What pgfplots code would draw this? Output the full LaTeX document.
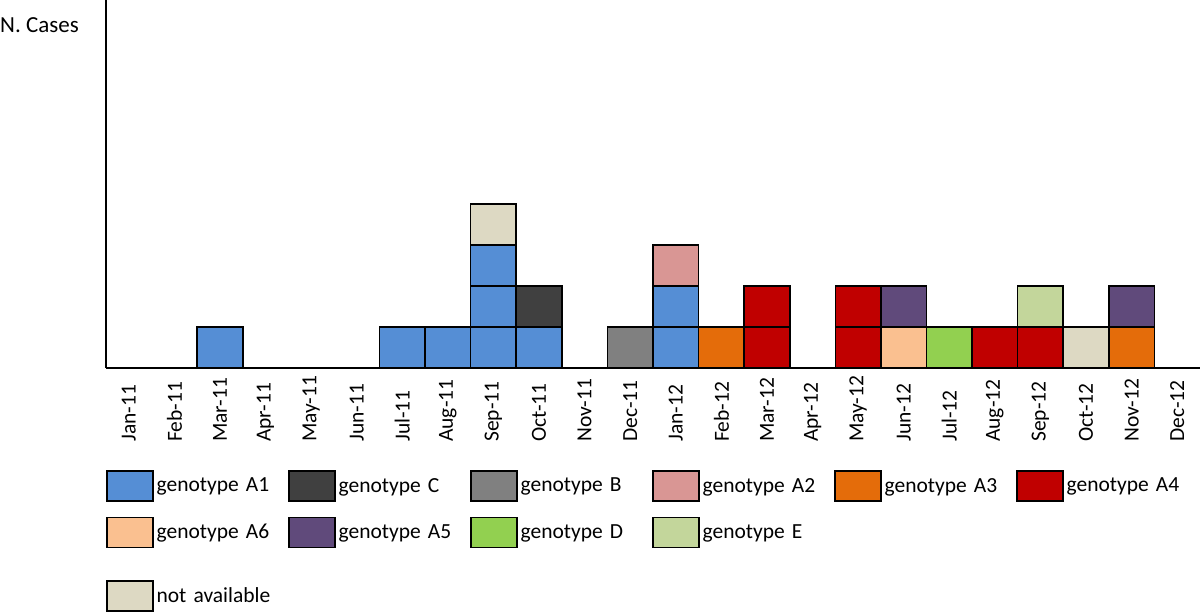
\documentclass[border=0pt]{standalone}
\usepackage{pgfplots}
\pgfplotsset{compat=1.18}
\usepackage{pgfplotstable}
\usepackage{fontspec}
\setmainfont{Carlito}
\definecolor{cA1}{HTML}{558ED5}
\definecolor{cC}{HTML}{404040}
\definecolor{cB}{HTML}{808080}
\definecolor{cA2}{HTML}{D99694}
\definecolor{cA3}{HTML}{E46C0A}
\definecolor{cA4}{HTML}{C00000}
\definecolor{cA6}{HTML}{FAC090}
\definecolor{cA5}{HTML}{604A7B}
\definecolor{cD}{HTML}{92D050}
\definecolor{cE}{HTML}{C3D69B}
\definecolor{cNA}{HTML}{DDD9C3}
% one column per stacked unit layer: A1 split into 3 unit layers, A4 into 2
\pgfplotstableread{
x A1a A1b A1c B A3 A4a A4b A6 D NA C A2 A5 E
0 0 0 0 0 0 0 0 0 0 0 0 0 0 0
1 0 0 0 0 0 0 0 0 0 0 0 0 0 0
2 1 0 0 0 0 0 0 0 0 0 0 0 0 0
3 0 0 0 0 0 0 0 0 0 0 0 0 0 0
4 0 0 0 0 0 0 0 0 0 0 0 0 0 0
5 0 0 0 0 0 0 0 0 0 0 0 0 0 0
6 1 0 0 0 0 0 0 0 0 0 0 0 0 0
7 1 0 0 0 0 0 0 0 0 0 0 0 0 0
8 1 1 1 0 0 0 0 0 0 1 0 0 0 0
9 1 0 0 0 0 0 0 0 0 0 1 0 0 0
10 0 0 0 0 0 0 0 0 0 0 0 0 0 0
11 0 0 0 1 0 0 0 0 0 0 0 0 0 0
12 1 1 0 0 0 0 0 0 0 0 0 1 0 0
13 0 0 0 0 1 0 0 0 0 0 0 0 0 0
14 0 0 0 0 0 1 1 0 0 0 0 0 0 0
15 0 0 0 0 0 0 0 0 0 0 0 0 0 0
16 0 0 0 0 0 1 1 0 0 0 0 0 0 0
17 0 0 0 0 0 0 0 1 0 0 0 0 1 0
18 0 0 0 0 0 0 0 0 1 0 0 0 0 0
19 0 0 0 0 0 1 0 0 0 0 0 0 0 0
20 0 0 0 0 0 1 0 0 0 0 0 0 0 1
21 0 0 0 0 0 0 0 0 0 1 0 0 0 0
22 0 0 0 0 1 0 0 0 0 0 0 0 1 0
23 0 0 0 0 0 0 0 0 0 0 0 0 0 0
}\data
\newcommand\bigfont{\fontsize{21.5pt}{25pt}\selectfont}
\newcommand\T[1]{{\bigfont #1}}
\pgfplotsset{
  legbox/.style={draw=black, line width=1.6pt,
    legend image code/.code={\draw[##1] (0pt,-15pt) rectangle (46pt,15pt);}},
  mylegend/.style={legend style={draw=none, fill=none, inner sep=0pt, outer sep=0pt,
    at={(0,0)}, anchor=north west, column sep=0pt, row sep=15pt,
    font=\bigfont,
    nodes={text width=128.4pt, inner xsep=3pt, inner ysep=0pt, anchor=west, align=left}},
    legend cell align=left},
}
\begin{document}
\begin{tikzpicture}[font=\bigfont]
\path[use as bounding box] (-106pt,-243pt) rectangle (1094pt,368pt);
\begin{axis}[
  scale only axis, width=1094pt, height=368pt,
  xmin=-0.5, xmax=23.5, ymin=0, ymax=8.976,
  clip=false,
  axis x line*=bottom, axis y line*=left,
  axis line style={-, line width=1.5pt, black},
  ytick=\empty, xtick={0,...,23},
  xticklabels={\T{Jan-11},\T{Feb-11},\T{Mar-11},\T{Apr-11},\T{May-11},\T{Jun-11},\T{Jul-11},\T{Aug-11},\T{Sep-11},\T{Oct-11},\T{Nov-11},\T{Dec-11},\T{Jan-12},\T{Feb-12},\T{Mar-12},\T{Apr-12},\T{May-12},\T{Jun-12},\T{Jul-12},\T{Aug-12},\T{Sep-12},\T{Oct-12},\T{Nov-12},\T{Dec-12}},
  major tick length=0pt,
  xticklabel style={rotate=90, anchor=west, inner sep=0pt, font=\bigfont},
  xticklabel shift=74pt,
  ybar stacked, bar width=1,
  every axis plot/.append style={draw=black, line width=1.6pt},
  mylegend, legend columns=6,
  legend style={yshift=-102pt},
]
\addplot[fill=cA1, forget plot] table[x=x, y=A1a] {\data};
\addplot[fill=cA1, forget plot] table[x=x, y=A1b] {\data};
\addplot[fill=cA1, forget plot] table[x=x, y=A1c] {\data};
\addplot[fill=cB, forget plot] table[x=x, y=B] {\data};
\addplot[fill=cA3, forget plot] table[x=x, y=A3] {\data};
\addplot[fill=cA4, forget plot] table[x=x, y=A4a] {\data};
\addplot[fill=cA4, forget plot] table[x=x, y=A4b] {\data};
\addplot[fill=cA6, forget plot] table[x=x, y=A6] {\data};
\addplot[fill=cD, forget plot] table[x=x, y=D] {\data};
\addplot[fill=cNA, forget plot] table[x=x, y=NA] {\data};
\addplot[fill=cC, forget plot] table[x=x, y=C] {\data};
\addplot[fill=cA2, forget plot] table[x=x, y=A2] {\data};
\addplot[fill=cA5, forget plot] table[x=x, y=A5] {\data};
\addplot[fill=cE, forget plot] table[x=x, y=E] {\data};
\addlegendimage{legbox, fill=cA1}\addlegendentry{genotype A1}
\addlegendimage{legbox, fill=cC}\addlegendentry{genotype C}
\addlegendimage{legbox, fill=cB}\addlegendentry{genotype B}
\addlegendimage{legbox, fill=cA2}\addlegendentry{genotype A2}
\addlegendimage{legbox, fill=cA3}\addlegendentry{genotype A3}
\addlegendimage{legbox, fill=cA4}\addlegendentry{genotype A4}
\addlegendimage{legbox, fill=cA6}\addlegendentry{genotype A6}
\addlegendimage{legbox, fill=cA5}\addlegendentry{genotype A5}
\addlegendimage{legbox, fill=cD}\addlegendentry{genotype D}
\addlegendimage{legbox, fill=cE}\addlegendentry{genotype E}
\node[anchor=east, inner sep=0pt, font=\fontsize{23pt}{27pt}\selectfont] at (rel axis cs:0,1) [xshift=-27pt, yshift=-25pt] {N. Cases};
\end{axis}
\begin{axis}[
  scale only axis, width=1094pt, height=368pt,
  xmin=0, xmax=1, ymin=0, ymax=1, hide axis,
  mylegend, legend columns=1,
  legend style={yshift=-212pt},
]
\addlegendimage{legbox, fill=cNA}\addlegendentry{not available}
\end{axis}
\end{tikzpicture}
\end{document}
